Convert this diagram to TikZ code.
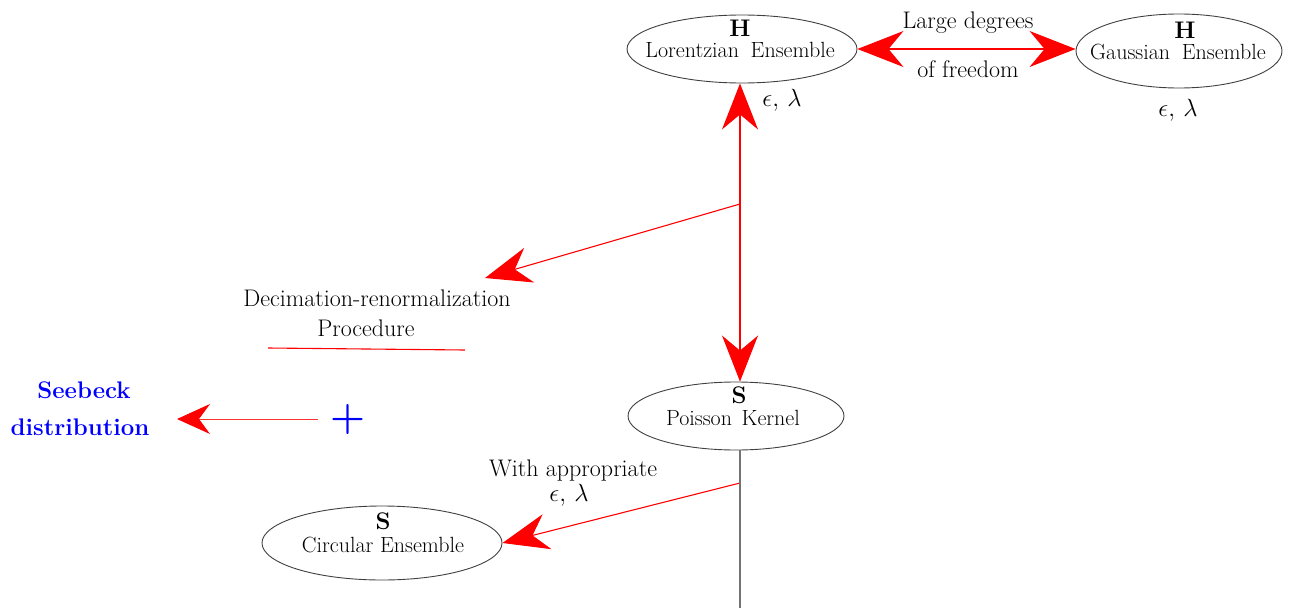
\documentclass[tikz,border=0pt]{standalone}
\usetikzlibrary{arrows.meta,shapes.geometric}
\begin{document}
\begin{tikzpicture}[x=1pt,y=-1pt,
  ell/.style={draw=black!75,line width=0.9pt,ellipse,inner sep=0pt},
  txt/.style={inner sep=0pt,font=\fontsize{22}{25}\selectfont},
  lbl/.style={inner sep=0pt,font=\fontsize{24}{27}\selectfont},
  sym/.style={inner sep=0pt,font=\fontsize{24}{26}\selectfont\bfseries},
  blu/.style={inner sep=0pt,text=blue,font=\fontsize{24}{26}\selectfont\bfseries},
  bigtip/.tip={Stealth[length=46pt,width=36pt,inset=15pt]},
  smalltip/.tip={Stealth[length=33pt,width=30pt,inset=11pt]},
  redline/.style={draw=red,line width=1.1pt}]
\useasboundingbox (0,0) rectangle (1293,608);
% ellipses
\node[ell,minimum width=230pt,minimum height=68pt] (lor) at (742,49) {};
\node[ell,minimum width=206pt,minimum height=74pt] (gau) at (1179,51) {};
\node[ell,minimum width=216pt,minimum height=68pt] (pk) at (736,416) {};
\node[ell,minimum width=240pt,minimum height=74pt] (cir) at (382,543) {};
% ellipse texts
\node[sym] (lorH) at (740,28) {H};
\node[txt] (lorT) at (740,50) {Lorentzian\hspace{5pt} Ensemble};
\node[sym] (gauH) at (1185,30) {H};
\node[txt] (gauT) at (1178,52) {Gaussian\hspace{5pt} Ensemble};
\node[sym] (pkS) at (739,395) {S};
\node[txt] (pkT) at (733,418) {Poisson\hspace{3pt} Kernel};
\node[sym] (cirS) at (383,521) {S};
\node[txt] (cirT) at (383,545) {Circular Ensemble};
% epsilon lambda labels
\node[lbl] (el1) at (782,100) {$\epsilon,\,\lambda$};
\node[lbl] (el2) at (1178,110) {$\epsilon,\,\lambda$};
\node[lbl] (el3) at (569,495) {$\epsilon,\,\lambda$};
% other labels
\node[lbl] (ld1) at (968,23) {Large degrees};
\node[lbl] (ld2) at (968,69) {of freedom};
\node[lbl] (dec1) at (377,298) {Decimation-renormalization};
\node[lbl] (dec2) at (366,328) {Procedure};
\node[lbl] (wa) at (573,471) {With appropriate};
\node[blu] (see1) at (84,390) {Seebeck};
\node[blu] (see2) at (80,427) {distribution};
\node[inner sep=0pt,text=blue,font=\fontsize{40}{40}\selectfont\bfseries] (plus) at (348,420) {+};
% coordinates
\coordinate (b1) at (740,204);
\coordinate (d1) at (485,278);
\coordinate (b2) at (740,483);
\coordinate (s1) at (318,419);
\coordinate (s2) at (177,419);
\coordinate (u1) at (268,348);
\coordinate (u2) at (465,350);
\coordinate (bot) at (740,608);
% connectors
\draw[redline,{bigtip[red]}-{bigtip[red]}] (lor.east) -- (lor.east -| gau.west);
\draw[redline,{bigtip[red]}-{bigtip[red]}] (lor.south -| b1) -- (pk.north -| b1);
\draw[redline,-{bigtip[red]}] (b1) -- (d1);
\draw[redline,-{bigtip[red]}] (b2) -- (cir.east);
\draw[draw=red!80,line width=1pt,-{smalltip[red]}] (s1) -- (s2);
\draw[redline] (u1) -- (u2);
\draw[draw=black!55,line width=1.1pt] (pk.south -| b1) -- (bot);
\end{tikzpicture}
\end{document}
